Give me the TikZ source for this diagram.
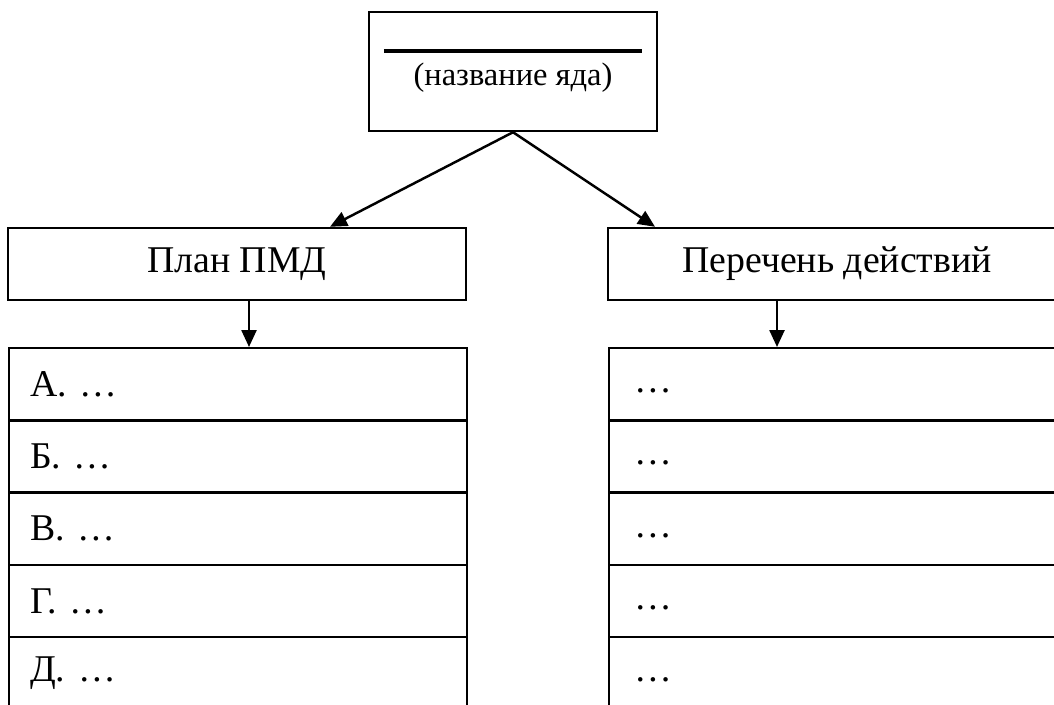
\documentclass[tikz,border=0pt]{standalone}
\usepackage{fontspec}
\setmainfont{Liberation Serif}
\usepackage{tikz}
\usetikzlibrary{arrows.meta,positioning}

\begin{document}
\begin{tikzpicture}[
    box/.style={rectangle, draw, line width=1.4pt, minimum width=9.16cm, minimum height=1.44cm, align=center, font=\fontsize{21.5}{26}\selectfont},
    rowbox/.style={rectangle, draw, line width=1.4pt, anchor=north west, minimum height=1.444cm, inner xsep=0.42cm, text width=8.32cm, align=left, font=\fontsize{21.5}{26}\selectfont},
    arrow/.style={-{Triangle[length=0.34cm, width=0.3cm]}, line width=1.4pt},
]
    \clip (0,0) rectangle (21.08,-14.08);

    % Poison box
    \node[rectangle, draw, line width=1.4pt, minimum width=5.76cm, minimum height=2.38cm] (poison) at (10.26,-1.43) {};
    \draw[line width=2.4pt] ([xshift=0.32cm, yshift=-0.8cm]poison.north west) -- ([xshift=-0.32cm, yshift=-0.8cm]poison.north east);
    \node[font=\fontsize{18.5}{22}\selectfont] (poisonname) at ([yshift=-0.13cm]poison.center) {(название яда)};

    % Two branches
    \node[box] (plan) at (4.74,-5.28) {План ПМД};
    \node[box] (actions) at (16.74,-5.28) {Перечень действий};

    % Lists
    \foreach \lbl [count=\i from 0] in {А. …, Б. …, В. …, Г. …, Д. …}
        \node[rowbox] (plan\i) at (0.16,-6.94-\i*1.444) {\lbl};
    \foreach \i in {0,...,4}
        \node[rowbox, inner xsep=0.5cm, text width=8.16cm] (act\i) at (12.16,-6.94-\i*1.444) {\vphantom{Д}…};

    % Arrows
    \draw[arrow] (poison.south) -- ([xshift=1.86cm]plan.north);
    \draw[arrow] (poison.south) -- ([xshift=-3.64cm]actions.north);
    \draw[arrow] ([xshift=0.24cm]plan.south) -- ([xshift=0.24cm]plan.south |- plan0.north);
    \draw[arrow] ([xshift=-1.2cm]actions.south) -- ([xshift=-1.2cm]actions.south |- act0.north);
\end{tikzpicture}
\end{document}
